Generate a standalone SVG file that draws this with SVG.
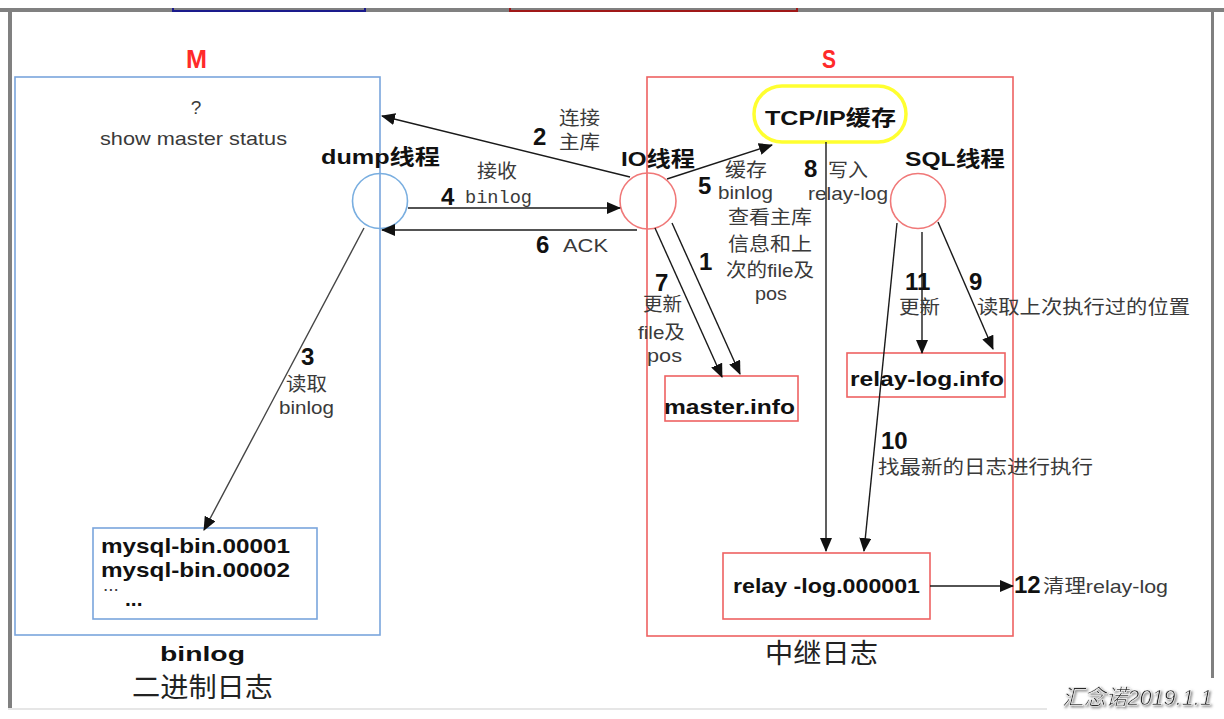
<svg xmlns="http://www.w3.org/2000/svg" width="1224" height="719" viewBox="0 0 1224 719">
<style>
text{font-family:"Liberation Sans","Noto Sans CJK SC",sans-serif}
.lbl{font-size:19px;fill:#3a3a3a}
.num{font-size:24px;font-weight:bold;fill:#111}
.b{font-size:21px;font-weight:bold;fill:#111}
.big{font-size:27px;fill:#222}
.mono{font-family:"Liberation Mono","DejaVu Sans Mono",monospace;font-size:18px;fill:#3a3a3a}
.red{fill:#ff2a2a;font-weight:bold;font-size:26px}
.bluebox{fill:none;stroke:#7aa5dc;stroke-width:1.6}
.redbox{fill:none;stroke:#ee6262;stroke-width:1.6}
.bc{fill:none;stroke:#79aee0;stroke-width:1.6}
.rc{fill:none;stroke:#f07878;stroke-width:1.6}
.conn line{stroke:#1a1a1a;stroke-width:1.4;marker-end:url(#ah)}
</style>
<defs>
<marker id="ah" markerUnits="userSpaceOnUse" markerWidth="14" markerHeight="12" viewBox="0 0 14 12" refX="13" refY="6" orient="auto">
<path d="M0,0 L14,6 L0,12 z" fill="#111"/>
</marker>
<filter id="sh" x="-10%" y="-30%" width="120%" height="160%">
<feDropShadow dx="1.5" dy="1.5" stdDeviation="0.8" flood-color="#888"/>
</filter>
</defs>
<rect width="1224" height="719" fill="#fff"/>
<g id="frame">
<rect x="0" y="8" width="1224" height="4" fill="#808080"/>
<path d="M173,8 V11 H365 V8" fill="none" stroke="#1a1a8c" stroke-width="2"/>
<path d="M510,8 V11 H797 V8" fill="none" stroke="#a01818" stroke-width="2"/>
<rect x="8" y="10" width="4" height="699" fill="#808080"/>
<rect x="1211" y="10" width="3" height="668" fill="#808080"/>
<rect x="8" y="708" width="1040" height="2" fill="#e6e6e6"/>
</g>
<g id="M-group">
<text class="red" x="186" y="68" textLength="21" lengthAdjust="spacingAndGlyphs">M</text>
<rect class="bluebox" x="15" y="77" width="365" height="558"/>
<text class="lbl" x="196" y="114" text-anchor="middle">?</text>
<text class="lbl" x="100" y="145" textLength="187" lengthAdjust="spacingAndGlyphs">show master status</text>
<text class="b" x="160" y="661" font-size="22" textLength="85" lengthAdjust="spacingAndGlyphs">binlog</text>
<text class="big" x="132" y="697" textLength="141" lengthAdjust="spacingAndGlyphs">二进制日志</text>
</g>
<g id="S-group">
<text class="red" x="822" y="68" textLength="14" lengthAdjust="spacingAndGlyphs">S</text>
<rect class="redbox" x="647" y="77" width="366" height="559"/>
<text class="big" x="765" y="663" textLength="113" lengthAdjust="spacingAndGlyphs">中继日志</text>
</g>
<g id="dump">
<circle class="bc" cx="380" cy="201" r="27.5"/>
<text class="b" x="321" y="164" textLength="119" lengthAdjust="spacingAndGlyphs">dump线程</text>
</g>
<g id="io">
<circle class="rc" cx="648" cy="201" r="28"/>
<text class="b" x="621" y="166" textLength="74" lengthAdjust="spacingAndGlyphs">IO线程</text>
</g>
<g id="sql">
<circle class="rc" cx="918" cy="201" r="27.5"/>
<text class="b" x="905" y="166" textLength="100" lengthAdjust="spacingAndGlyphs">SQL线程</text>
</g>
<g id="tcp">
<rect x="754" y="86" width="152" height="56" rx="28" fill="none" stroke="#ffff30" stroke-width="3.5"/>
<text class="b" x="765" y="125" font-size="22" textLength="131" lengthAdjust="spacingAndGlyphs">TCP/IP缓存</text>
</g>
<g id="mysqlbin">
<rect class="bluebox" x="93" y="528" width="224" height="91"/>
<text class="b" x="101" y="553" textLength="189" lengthAdjust="spacingAndGlyphs">mysql-bin.00001</text>
<text class="lbl" x="103" y="591" font-size="15">...</text>
<text class="b" x="101" y="577" textLength="189" lengthAdjust="spacingAndGlyphs">mysql-bin.00002</text>
<text class="b" x="125" y="606" font-size="18">...</text>
</g>
<g id="masterinfo">
<rect class="redbox" x="665" y="376" width="133" height="45"/>
<text class="b" x="664" y="414" textLength="131" lengthAdjust="spacingAndGlyphs">master.info</text>
</g>
<g id="relayloginfo">
<rect class="redbox" x="847" y="353" width="158" height="44"/>
<text class="b" x="850" y="386" textLength="154" lengthAdjust="spacingAndGlyphs">relay-log.info</text>
</g>
<g id="relaylog">
<rect class="redbox" x="723" y="553" width="207" height="66"/>
<text class="b" x="733" y="593" textLength="187" lengthAdjust="spacingAndGlyphs">relay -log.000001</text>
</g>
<g id="connectors" class="conn">
<line x1="630" y1="177" x2="382" y2="116"/>
<line x1="408" y1="208" x2="620" y2="208"/>
<line x1="637" y1="230" x2="382" y2="230"/>
<line x1="667" y1="179" x2="772" y2="145"/>
<line x1="826" y1="142" x2="826" y2="551"/>
<line x1="655" y1="228" x2="722" y2="377"/>
<line x1="672" y1="223" x2="740" y2="374"/>
<line x1="922" y1="232" x2="922" y2="353"/>
<line x1="938" y1="222" x2="993" y2="349"/>
<line x1="897" y1="223" x2="864" y2="551"/>
<line x1="930" y1="586" x2="1013" y2="586"/>
<line x1="364" y1="228" x2="204" y2="530" style="stroke:#444"/>
</g>
<g id="labels">
<text class="num" x="533" y="145">2</text>
<text class="lbl" x="559" y="125" textLength="41" lengthAdjust="spacingAndGlyphs">连接</text>
<text class="lbl" x="559" y="149" textLength="41" lengthAdjust="spacingAndGlyphs">主库</text>
<text class="lbl" x="477" y="178" textLength="40" lengthAdjust="spacingAndGlyphs">接收</text>
<text class="num" x="441" y="205">4</text>
<text class="mono" x="465" y="203" textLength="67" lengthAdjust="spacingAndGlyphs">binlog</text>
<text class="num" x="536" y="253">6</text>
<text class="lbl" x="563" y="252" font-size="21" textLength="45" lengthAdjust="spacingAndGlyphs">ACK</text>
<text class="num" x="698" y="194">5</text>
<text class="lbl" x="725" y="177" textLength="42" lengthAdjust="spacingAndGlyphs">缓存</text>
<text class="lbl" x="718" y="199" textLength="55" lengthAdjust="spacingAndGlyphs">binlog</text>
<text class="num" x="804" y="177">8</text>
<text class="lbl" x="828" y="177" textLength="40" lengthAdjust="spacingAndGlyphs">写入</text>
<text class="lbl" x="808" y="200" textLength="80" lengthAdjust="spacingAndGlyphs">relay-log</text>
<text class="lbl" x="728" y="224" textLength="84" lengthAdjust="spacingAndGlyphs">查看主库</text>
<text class="lbl" x="728" y="251" textLength="84" lengthAdjust="spacingAndGlyphs">信息和上</text>
<text class="lbl" x="726" y="277" textLength="88" lengthAdjust="spacingAndGlyphs">次的file及</text>
<text class="lbl" x="755" y="300" textLength="32" lengthAdjust="spacingAndGlyphs">pos</text>
<text class="num" x="699" y="270">1</text>
<text class="num" x="655" y="291">7</text>
<text class="lbl" x="643" y="311" textLength="39" lengthAdjust="spacingAndGlyphs">更新</text>
<text class="lbl" x="638" y="339" textLength="47" lengthAdjust="spacingAndGlyphs">file及</text>
<text class="lbl" x="647" y="362" textLength="35" lengthAdjust="spacingAndGlyphs">pos</text>
<text class="num" x="905" y="290">11</text>
<text class="lbl" x="899" y="314" textLength="41" lengthAdjust="spacingAndGlyphs">更新</text>
<text class="num" x="969" y="290">9</text>
<text class="lbl" x="977" y="314" textLength="213" lengthAdjust="spacingAndGlyphs">读取上次执行过的位置</text>
<text class="num" x="881" y="449">10</text>
<text class="lbl" x="878" y="474" textLength="215" lengthAdjust="spacingAndGlyphs">找最新的日志进行执行</text>
<text class="num" x="1014" y="593">12</text>
<text class="lbl" x="1043" y="593" textLength="125" lengthAdjust="spacingAndGlyphs">清理relay-log</text>
<text class="num" x="301" y="365">3</text>
<text class="lbl" x="286" y="391" textLength="41" lengthAdjust="spacingAndGlyphs">读取</text>
<text class="lbl" x="279" y="414" textLength="55" lengthAdjust="spacingAndGlyphs">binlog</text>
</g>
<g id="watermark">
<rect x="1047" y="678" width="177" height="32" fill="#fff"/>
<text x="1062" y="705" font-size="22" font-style="italic" fill="#2a2a2a" stroke="#fff" stroke-width="0.6" filter="url(#sh)" textLength="150" lengthAdjust="spacingAndGlyphs">汇念诺2019.1.1</text>
</g>
</svg>
